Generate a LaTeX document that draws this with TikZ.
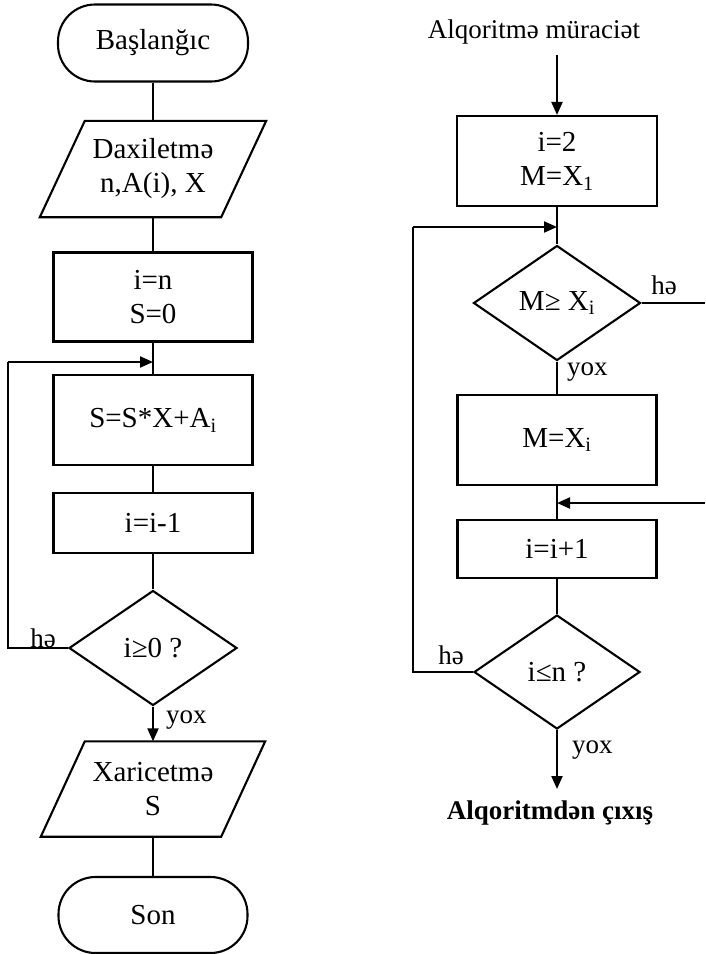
\documentclass[tikz,border=0pt]{standalone}
\usepackage{fontspec}
\setmainfont{Liberation Serif}
\usetikzlibrary{shapes.geometric,arrows.meta}
\begin{document}
\begin{tikzpicture}[x=1pt,y=-1pt,
  every node/.style={font=\fontsize{29}{34}\selectfont},
  line/.style={line width=2.1pt},
  arr/.style={line width=2.1pt,-{Triangle[length=13pt,width=11pt]}},
  proc/.style={draw,line width=2.1pt,rectangle,minimum width=199pt,inner sep=0pt,align=center},
  term/.style={draw,line width=2.1pt,rectangle,rounded corners=37pt,minimum width=190pt,minimum height=77pt,inner sep=0pt},
  dec/.style={draw,line width=2.1pt,diamond,minimum width=168pt,minimum height=115pt,inner sep=0pt},
  io/.style={inner sep=0pt,minimum width=181pt,minimum height=96pt,align=center},
  lbl/.style={font=\fontsize{27}{30}\selectfont,inner sep=0pt}
]
\useasboundingbox (0,0) rectangle (705,954);

% ---------- left chart ----------
\node[term] (start) at (153,43) {Başlanğıc};
\node[io] (inp) at (153,169) {Daxiletmə\\n,A(i), X};
\draw[line] ([xshift=22.5pt]inp.north west) -- ([xshift=22.5pt]inp.north east)
  -- ([xshift=-22.5pt]inp.south east) -- ([xshift=-22.5pt]inp.south west) -- cycle;
\node[proc,minimum height=89pt] (init) at (153,297) {i=n\\S=0};
\node[proc,minimum height=90pt] (body) at (153,420) {S=S*X+A\textsubscript{i}};
\node[proc,minimum height=60pt] (dec1) at (153,523) {i=i-1};
\node[dec] (cnd) at (153,648) {i≥0 ?};
\node[io,minimum height=95pt,minimum width=180pt] (outp) at (153,789) {Xaricetmə\\S};
\draw[line] ([xshift=22pt]outp.north west) -- ([xshift=22pt]outp.north east)
  -- ([xshift=-22pt]outp.south east) -- ([xshift=-22pt]outp.south west) -- cycle;
\node[term,minimum height=76pt,minimum width=189pt] (son) at (153,915) {Son};

\coordinate (j1) at (153,362);
\coordinate (l1) at (8,648);
\coordinate (l2) at (8,362);

\draw[line] (start) -- (inp);
\draw[line] (inp) -- (init);
\draw[line] (init) -- (body);
\draw[line] (body) -- (dec1);
\draw[line] (dec1) -- (cnd);
\draw[arr] (cnd) -- (outp);
\draw[line] (outp) -- (son);
\draw[line] (cnd.west) -- (l1) -- (l2);
\draw[arr] (l2) -- (j1);
\node[lbl] (he1) at (43,638) {hə};
\node[lbl,anchor=west] (yox1) at (166,720) {yox};

% ---------- right chart ----------
\node[font=\fontsize{27}{33}\selectfont] (title) at (534,32) {Alqoritmə müraciət};
\coordinate (t1) at (557,55);
\node[proc,minimum height=90pt,minimum width=200pt] (init2) at (557,161) {i=2\\M=X\textsubscript{1}};
\node[dec,minimum width=167pt] (c1) at (557,303) {M≥ X\textsubscript{i}};
\node[proc,minimum height=90pt] (set) at (557,440) {M=X\textsubscript{i}};
\node[proc,minimum height=58pt] (inc) at (557,549) {i=i+1};
\node[dec,minimum width=166pt,minimum height=114pt] (c2) at (557,672) {i≤n ?};
\node[font=\bfseries\fontsize{27}{33}\selectfont] (exit) at (550,813) {Alqoritmdən çıxış};

\coordinate (j2) at (557,227);
\coordinate (j3) at (557,503);
\coordinate (r1) at (705,303);
\coordinate (r2) at (705,503);
\coordinate (m1) at (413,672);
\coordinate (m2) at (413,227);
\coordinate (e1) at (557,789);

\draw[arr] (t1) -- (init2);
\draw[line] (init2) -- (c1);
\draw[line] (c1) -- (set);
\draw[line] (set) -- (inc);
\draw[line] (inc) -- (c2);
\draw[line] (c1.east) -- (r1);
\draw[arr] (r2) -- (j3);
\draw[line] (c2.west) -- (m1) -- (m2);
\draw[arr] (m2) -- (j2);
\draw[arr] (c2.south) -- (e1);
\node[lbl] (he2) at (664,285) {hə};
\node[lbl] (he3) at (451,655) {hə};
\node[lbl,anchor=west] (yox2) at (567,372) {yox};
\node[lbl,anchor=west] (yox3) at (572,750) {yox};
\end{tikzpicture}
\end{document}
